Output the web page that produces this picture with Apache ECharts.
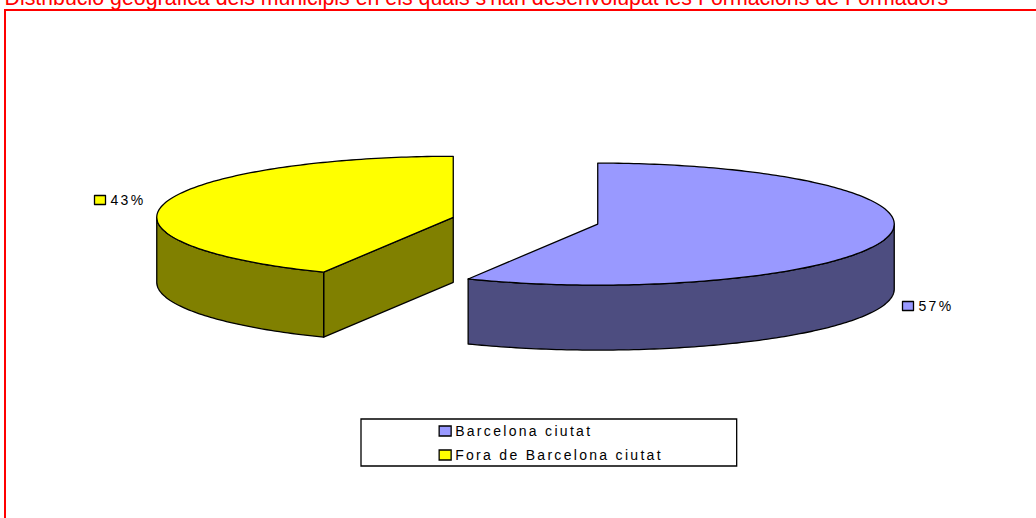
<!DOCTYPE html>
<html>
<head>
<meta charset="utf-8" />
<style>
  html, body { margin: 0; padding: 0; background: #fff; overflow: hidden; }
  #main { width: 1036px; height: 518px; }
  /* zrender has no letter spacing option, the svg text picks it up from css */
  #main text { letter-spacing: 2.3px; }
  #main text[fill="#ff0000"], #main text[fill="rgb(255,0,0)"], #main text[fill="#f00"] { letter-spacing: 0; }
</style>
</head>
<body>
<div id="main"></div>
<script src="https://cdn.jsdelivr.net/npm/echarts@6/dist/echarts.min.js"></script>
<script>
const titleText = "Distribució geogràfica dels municipis en els quals s'han desenvolupat les Formacions de Formadors";
const categories = ["Barcelona ciutat", "Fora de Barcelona ciutat"];
const shares = [57.2, 42.8];

const topColors = ["#9999ff", "#ffff00"];
const sideColors = ["#4d4d80", "#808000"];

// pie geometry, in pixels
const pie = { cx: 525.5, cy: 220.7, rx: 296.5, ry: 61, depth: 65, explode: 0.25 };
// small key next to each percentage label
const labelKeys = [
  { x: 902, y: 301 },
  { x: 94, y: 195 }
];

const total = shares.reduce((a, b) => a + b, 0);
const rad = d => (d * Math.PI) / 180;

// clock angle, 0 at 12 o'clock and going clockwise
function rim(c, angle, drop) {
  return [
    c.x + pie.rx * Math.sin(rad(angle)),
    c.y - pie.ry * Math.cos(rad(angle)) + (drop || 0)
  ];
}

function arc(c, from, to, drop) {
  let pts = [];
  for (let a = from; a < to; a += 1) pts.push(rim(c, a, drop));
  pts.push(rim(c, to, drop));
  return pts;
}

function sliceItem(index, value) {
  let before = shares.slice(0, index).reduce((a, b) => a + b, 0);
  let start = (before / total) * 360;
  let end = start + (value / total) * 360;
  let mid = rad((start + end) / 2);
  let c = {
    x: pie.cx + pie.explode * pie.rx * Math.sin(mid),
    y: pie.cy - pie.explode * pie.ry * Math.cos(mid)
  };
  let line = { stroke: "#000", lineWidth: 1.3, lineJoin: "round" };
  let side = Object.assign({ fill: sideColors[index] }, line);
  let children = [];

  // cut faces, only the ones turned to the viewer
  [[start, Math.sin(rad(start)) < -0.001], [end, Math.sin(rad(end)) > 0.001]].forEach(f => {
    if (!f[1]) return;
    let p = rim(c, f[0]);
    children.push({
      type: "polygon",
      shape: { points: [[c.x, c.y], p, [p[0], p[1] + pie.depth], [c.x, c.y + pie.depth]] },
      style: side
    });
  });

  // outer wall, front half of the ellipse only
  let wallFrom = Math.max(start, 90);
  let wallTo = Math.min(end, 270);
  if (wallTo > wallFrom) {
    children.push({
      type: "polygon",
      shape: { points: arc(c, wallFrom, wallTo).concat(arc(c, wallFrom, wallTo, pie.depth).reverse()) },
      style: side
    });
  }

  children.push({
    type: "polygon",
    shape: { points: [[c.x, c.y]].concat(arc(c, start, end)) },
    style: Object.assign({ fill: topColors[index] }, line)
  });

  let key = labelKeys[index];
  children.push({
    type: "rect",
    shape: { x: key.x + 0.5, y: key.y + 0.5, width: 11, height: 9 },
    style: Object.assign({ fill: topColors[index] }, line)
  });
  children.push({
    type: "text",
    style: {
      text: Math.round((value / total) * 100) + "%",
      x: key.x + 16.5,
      y: key.y + 5,
      fill: "#000",
      font: "14px 'Liberation Sans', Arial, sans-serif",
      textAlign: "left",
      textVerticalAlign: "middle"
    }
  });
  return { type: "group", children: children };
}

let myChart = echarts.init(document.getElementById("main"), null, { renderer: "svg" });

let option = {
  animation: false,
  backgroundColor: "#fff",
  title: {
    text: titleText,
    left: 4.5,
    top: -13,
    padding: 0,
    textStyle: {
      color: "#ff0000",
      fontFamily: "'Liberation Sans', Arial, sans-serif",
      fontSize: 21.35,
      fontWeight: "normal"
    }
  },
  legend: {
    orient: "vertical",
    left: 361,
    top: 419,
    padding: [5, 129, 4, 77.5],
    itemWidth: 12,
    itemHeight: 10,
    itemGap: 10,
    icon: "rect",
    selectedMode: false,
    backgroundColor: "#fff",
    borderColor: "#000",
    borderWidth: 1.3,
    itemStyle: { borderColor: "#000", borderWidth: 1.3 },
    textStyle: {
      color: "#000",
      fontFamily: "'Liberation Sans', Arial, sans-serif",
      fontSize: 14,
      padding: [0, 0, 0, -1]
    },
    data: categories
  },
  graphic: [
    {
      type: "rect",
      z: 10,
      shape: { x: 5, y: 10, width: 1200, height: 700 },
      style: { fill: "none", stroke: "#ff0000", lineWidth: 2 }
    }
  ],
  series: categories.map((name, i) => ({
    type: "custom",
    name: name,
    coordinateSystem: "none",
    itemStyle: { color: topColors[i] },
    silent: true,
    data: [[shares[i]]],
    renderItem: (params, api) => sliceItem(i, api.value(0))
  }))
};
myChart.setOption(option);
</script>
</body>
</html>
